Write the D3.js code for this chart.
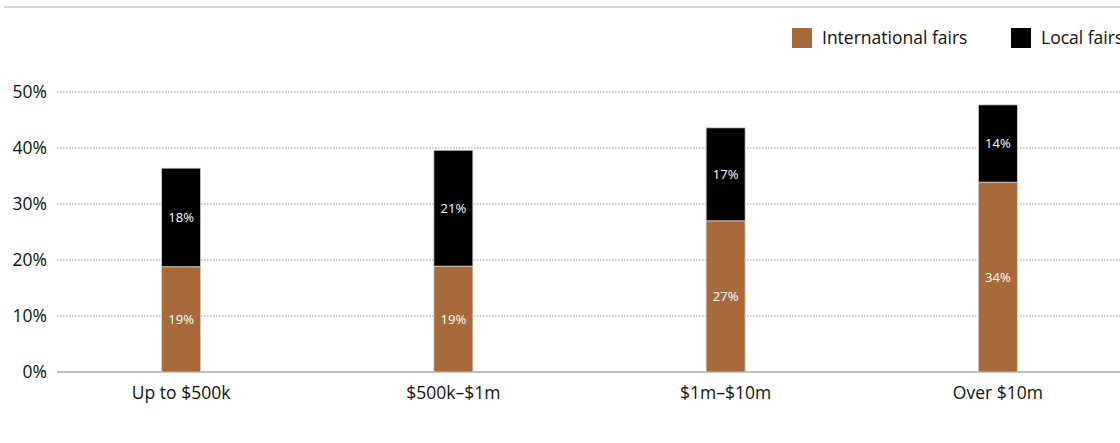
<!DOCTYPE html>
<html>
<head>
<meta charset="utf-8">
<script src="https://cdn.jsdelivr.net/npm/d3@7"></script>
<style>
  body { margin: 0; background: #fff; }
  text { font-family: "Open Sans", sans-serif; }
</style>
</head>
<body>
<svg id="chart" width="1120" height="443"></svg>
<script>
// data
const categories = ["Up to $500k", "$500k\u2013$1m", "$1m\u2013$10m", "Over $10m"];
const internationalFairs = [18.8, 18.9, 27.0, 33.9];
const localFairs = [17.6, 20.7, 16.6, 13.8];
const seriesNames = ["International fairs", "Local fairs"];
const seriesColors = ["#a86a3a", "#000000"];
const yTicks = [0, 10, 20, 30, 40, 50];

const svg = d3.select('#chart');
const width = 1120;

const rows = categories.map((c, i) => ({
    category: c,
    intl: internationalFairs[i],
    local: localFairs[i]
}));

const stacked = d3.stack().keys(['intl', 'local'])(rows);

const x = d3.scalePoint()
    .domain(categories)
    .range([45, 1134])
    .padding(0.5);

const y = d3.scaleLinear()
    .domain([0, 50])
    .range([372, 92]);

const barWidth = 39;

// top rule
svg.append('line')
    .attr('x1', 4).attr('x2', width)
    .attr('y1', 7).attr('y2', 7)
    .attr('stroke', '#d6d6d6')
    .attr('stroke-width', 2);

// gridlines
svg.append('g')
    .selectAll('line')
    .data(yTicks.filter(d => d > 0))
    .enter()
    .append('line')
    .attr('x1', 57).attr('x2', width)
    .attr('y1', d => y(d)).attr('y2', d => y(d))
    .attr('stroke', '#9a9a9a')
    .attr('stroke-width', 1)
    .attr('stroke-dasharray', '1.5,1.5');

// baseline
svg.append('line')
    .attr('x1', 57).attr('x2', width)
    .attr('y1', y(0)).attr('y2', y(0))
    .attr('stroke', '#a8a8a8')
    .attr('stroke-width', 1.5);

// y tick labels
svg.append('g')
    .selectAll('text')
    .data(yTicks)
    .enter()
    .append('text')
    .attr('x', 47)
    .attr('y', d => y(d))
    .attr('dy', '0.35em')
    .attr('text-anchor', 'end')
    .style('font-size', '17.5px')
    .style('fill', '#111')
    .text(d => d + '%');

// bars
const layers = svg.append('g')
    .selectAll('g')
    .data(stacked)
    .enter()
    .append('g')
    .attr('fill', (d, i) => seriesColors[i]);

layers.selectAll('rect')
    .data(d => d)
    .enter()
    .append('rect')
    .attr('x', d => x(d.data.category) - barWidth / 2)
    .attr('y', d => y(d[1]))
    .attr('width', barWidth)
    .attr('height', d => y(d[0]) - y(d[1]))
    .attr('stroke', '#d8d0c8')
    .attr('stroke-width', 0.8);

// segment labels
layers.selectAll('text')
    .data(d => d)
    .enter()
    .append('text')
    .attr('x', d => x(d.data.category))
    .attr('y', d => (y(d[0]) + y(d[1])) / 2)
    .attr('dy', '0.35em')
    .attr('text-anchor', 'middle')
    .style('font-size', '13px')
    .style('fill', '#fff')
    .text(d => Math.round(d[1] - d[0]) + '%');

// x labels
svg.append('g')
    .selectAll('text')
    .data(categories)
    .enter()
    .append('text')
    .attr('x', d => x(d))
    .attr('y', 399)
    .attr('text-anchor', 'middle')
    .style('font-size', '17.5px')
    .style('fill', '#111')
    .text(d => d);

// legend
const legendX = [792, 1011];
const legend = svg.append('g')
    .selectAll('g')
    .data(seriesNames)
    .enter()
    .append('g')
    .attr('transform', (d, i) => `translate(${legendX[i]}, 28)`);

legend.append('rect')
    .attr('width', 20).attr('height', 20)
    .attr('fill', (d, i) => seriesColors[i]);

legend.append('text')
    .attr('x', 30)
    .attr('y', 10)
    .attr('dy', '0.35em')
    .style('font-size', '17.5px')
    .style('fill', '#111')
    .text(d => d);
</script>
</body>
</html>
